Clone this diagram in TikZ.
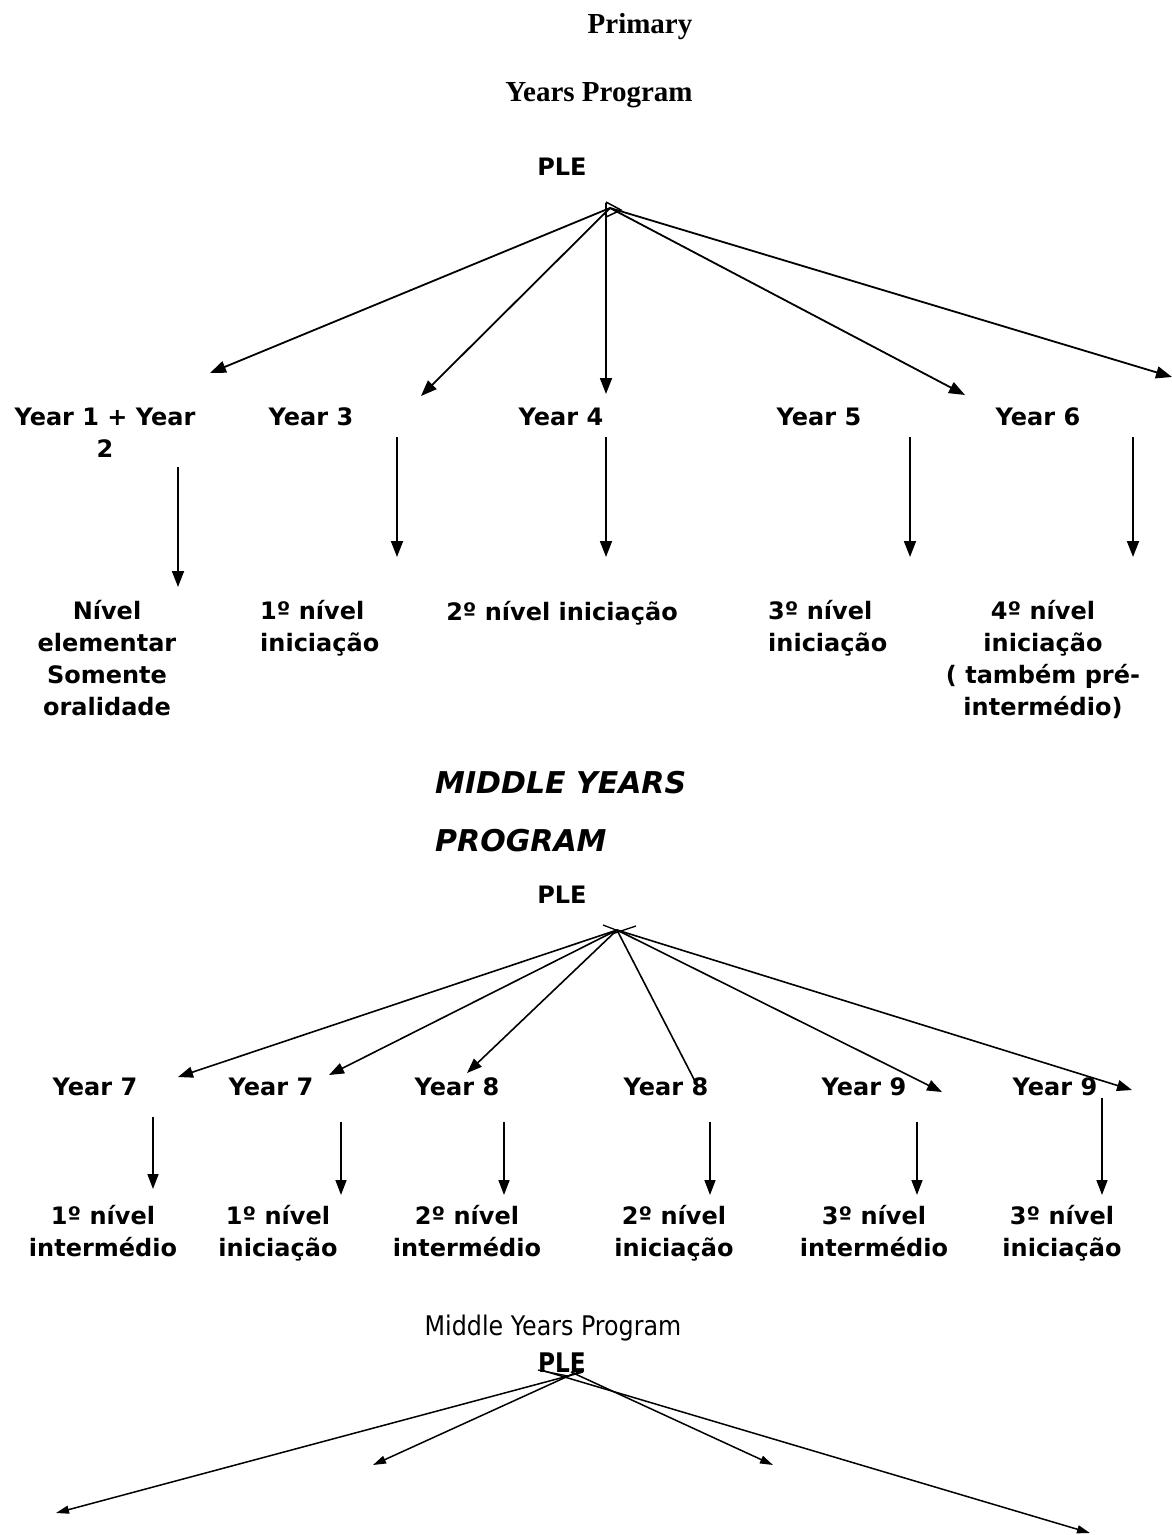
\documentclass[tikz,border=0pt]{standalone}
\usepackage{fontspec}
\usepackage{graphicx}
\setmainfont{DejaVu Sans}
\newfontfamily\timesfont{Liberation Serif}
\usetikzlibrary{arrows.meta}
\tikzset{
  lbl/.style={font=\bfseries\fontsize{24}{31.7}\selectfont, align=center, anchor=base, inner sep=0pt},
  ttl/.style={font=\timesfont\bfseries\fontsize{29}{34}\selectfont, anchor=base, inner sep=0pt},
  big/.style={font=\bfseries\itshape\fontsize{30}{34}\selectfont, anchor=base west, inner sep=0pt},
  arr/.style={-{Triangle[length=16pt,width=12pt]}, line width=1.8pt},
  midarr/.style={-{Triangle[length=15pt,width=11pt]}, line width=1.6pt},
  thinarr/.style={-{Triangle[length=13pt,width=8pt]}, line width=1.5pt},
}
\begin{document}
\begin{tikzpicture}[x=1pt,y=-1pt]
\useasboundingbox (0,0) rectangle (1171,1535);
% primary years
\node[ttl] (prim) at (640,33) {Primary};
\node[ttl] (pyp) at (599,101) {Years Program};
\node[lbl] (ple1) at (562,175) {PLE};
\coordinate (hub1) at (610,208);
\coordinate (top4) at (606,203);
\draw[line width=1.5pt] (606,202) -- (621,210) -- (606,217);
\node[lbl] (y12) at (105,457) {Year 1 + Year\\2};
\node[lbl] (y3) at (311,425) {Year 3};
\node[lbl] (y4) at (561,425) {Year 4};
\node[lbl] (y5) at (819,425) {Year 5};
\node[lbl] (y6) at (1038,425) {Year 6};
\coordinate (t12) at (210,373);
\coordinate (t3) at (421,396);
\coordinate (t4) at (606,394);
\coordinate (t6) at (965,395);
\coordinate (tr) at (1172,377);
\draw[arr] (hub1) -- (t12);
\draw[arr] (hub1) -- (t3);
\draw[arr] (top4) -- (t4);
\draw[arr] (hub1) -- (t6);
\draw[arr] (hub1) -- (tr);
\coordinate (a12) at (178,467);
\coordinate (b12) at (178,587);
\coordinate (a3) at (397,437);
\coordinate (b3) at (397,557);
\coordinate (a4) at (606,437);
\coordinate (b4) at (606,557);
\coordinate (a5) at (910,437);
\coordinate (b5) at (910,557);
\coordinate (a6) at (1133,437);
\coordinate (b6) at (1133,557);
\draw[arr] (a12) -- (b12);
\draw[arr] (a3) -- (b3);
\draw[arr] (a4) -- (b4);
\draw[arr] (a5) -- (b5);
\draw[arr] (a6) -- (b6);
\node[lbl] (n12) at (107,715) {Nível\\elementar\\Somente\\oralidade};
\node[lbl, align=left, anchor=base west] (n3) at (260,651) {1º nível\\iniciação};
\node[lbl] (n4) at (562,620) {2º nível iniciação};
\node[lbl, align=left, anchor=base west] (n5) at (768,651) {3º nível\\iniciação};
\node[lbl] (n6) at (1043,715) {4º nível\\iniciação\\( também pré-\\intermédio)};
% middle years
\node[big] (myp) at (435,793) {MIDDLE YEARS};
\node[big] (myp2) at (435,851) {PROGRAM};
\node[lbl] (ple2) at (562,903) {PLE};
\coordinate (hub2) at (617,930);
\draw[line width=1.3pt] (603,925) -- (624,933);
\draw[line width=1.3pt] (636,926) -- (612,934);
\node[lbl] (m1) at (95,1095) {Year 7};
\node[lbl] (m2) at (271,1095) {Year 7};
\node[lbl] (m3) at (457,1095) {Year 8};
\node[lbl] (m4) at (666,1095) {Year 8};
\node[lbl] (m5) at (864,1095) {Year 9};
\node[lbl] (m6) at (1055,1095) {Year 9};
\coordinate (s1) at (178,1077);
\coordinate (s2) at (329,1075);
\coordinate (s3) at (467,1073);
\coordinate (s4) at (698,1087);
\coordinate (s5) at (942,1092);
\coordinate (s6) at (1132,1090);
\draw[midarr] (hub2) -- (s1);
\draw[midarr] (hub2) -- (s2);
\draw[midarr] (hub2) -- (s3);
\draw[line width=1.6pt] (hub2) -- (s4);
\draw[midarr] (hub2) -- (s5);
\draw[midarr] (hub2) -- (s6);
\coordinate (c1) at (153,1117);
\coordinate (d1) at (153,1189);
\coordinate (c2) at (341,1122);
\coordinate (d2) at (341,1195);
\coordinate (c3) at (504,1122);
\coordinate (d3) at (504,1195);
\coordinate (c4) at (710,1122);
\coordinate (d4) at (710,1195);
\coordinate (c5) at (917,1122);
\coordinate (d5) at (917,1195);
\coordinate (c6) at (1102,1098);
\coordinate (d6) at (1102,1195);
\draw[midarr] (c1) -- (d1);
\draw[midarr] (c2) -- (d2);
\draw[midarr] (c3) -- (d3);
\draw[midarr] (c4) -- (d4);
\draw[midarr] (c5) -- (d5);
\draw[midarr] (c6) -- (d6);
\node[lbl] (l1) at (103,1256) {1º nível\\intermédio};
\node[lbl] (l2) at (278,1256) {1º nível\\iniciação};
\node[lbl] (l3) at (467,1256) {2º nível\\intermédio};
\node[lbl] (l4) at (674,1256) {2º nível\\iniciação};
\node[lbl] (l5) at (874,1256) {3º nível\\intermédio};
\node[lbl] (l6) at (1062,1256) {3º nível\\iniciação};
% second middle years
\node[font=\fontsize{27}{30}\selectfont, anchor=base, inner sep=0pt] (myp3) at (553,1335) {\scalebox{0.88}[1]{Middle Years Program}};
\node[font=\bfseries\fontsize{27}{30}\selectfont, anchor=base, inner sep=0pt] (ple3) at (562,1372) {\scalebox{0.86}[1]{PLE}};
\coordinate (h1) at (583,1372);
\coordinate (h2) at (575,1373);
\coordinate (h3) at (571,1372);
\coordinate (h4) at (541,1370);
\draw[line width=1.3pt] (538,1370) -- (568,1376) -- (584,1370);
\coordinate (u1) at (56,1513);
\coordinate (u2) at (373,1465);
\coordinate (u3) at (773,1465);
\coordinate (u4) at (1090,1533);
\draw[thinarr] (h1) -- (u1);
\draw[thinarr] (h2) -- (u2);
\draw[thinarr] (h3) -- (u3);
\draw[thinarr] (h4) -- (u4);
\end{tikzpicture}
\end{document}
